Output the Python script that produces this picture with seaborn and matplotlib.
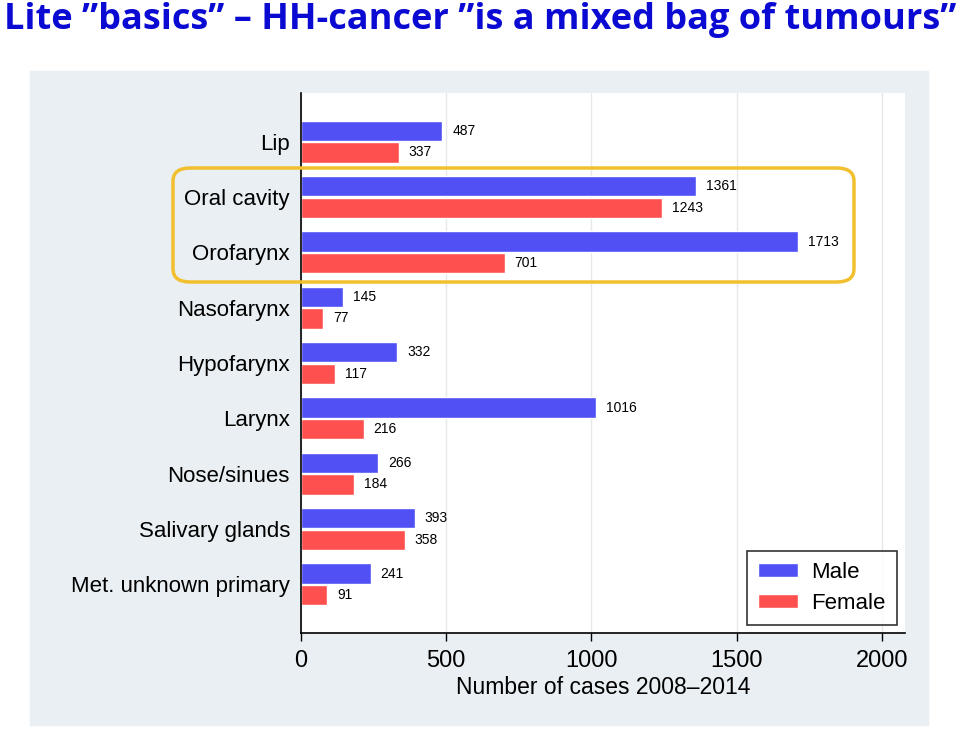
import pandas as pd
import matplotlib
matplotlib.use("Agg")
import matplotlib.pyplot as plt
import seaborn as sns
from matplotlib.patches import Rectangle, FancyBboxPatch

sites = ["Lip", "Oral cavity", "Orofarynx", "Nasofarynx", "Hypofarynx",
         "Larynx", "Nose/sinues", "Salivary glands", "Met. unknown primary"]
male = [487, 1361, 1713, 145, 332, 1016, 266, 393, 241]
female = [337, 1243, 701, 77, 117, 216, 184, 358, 91]

df = pd.DataFrame({"site": sites * 2,
                   "cases": male + female,
                   "sex": ["Male"] * len(sites) + ["Female"] * len(sites)})

sns.set_style("white")
plt.rcParams["font.family"] = ["Liberation Sans", "DejaVu Sans"]
plt.rcParams["text.color"] = "black"
plt.rcParams["xtick.color"] = "black"
plt.rcParams["ytick.color"] = "black"
plt.rcParams["axes.labelcolor"] = "black"

fig = plt.figure(figsize=(9.6, 7.29), dpi=100)
fig.patches.append(Rectangle((30 / 960, 1 - 725 / 729), 898 / 960, 654 / 729,
                             transform=fig.transFigure, color="#e9eff2", zorder=-1))

ax = fig.add_axes([301 / 960, 1 - 633 / 729, 604 / 960, 540 / 729])
ax.set_zorder(1)
sns.barplot(data=df, y="site", x="cases", hue="sex", orient="h",
            palette={"Male": "#5050f5", "Female": "#ff5050"},
            width=0.78, gap=0.05, saturation=1, ax=ax)

for cont in ax.containers:
    ax.bar_label(cont, padding=7, fontsize=10)

ax.set_xlim(0, 2080)
ax.set_ylim(8.88, -0.88)
ax.set_xticks([0, 500, 1000, 1500, 2000])
ax.xaxis.grid(True, color="#e8e8e8", lw=1)
ax.set_axisbelow(True)
ax.tick_params(axis="x", labelsize=17, length=6, width=1, direction="out", bottom=True, pad=6)
ax.tick_params(axis="y", labelsize=16, length=0, pad=8)
ax.set_xlabel("Number of cases 2008\u20132014", fontsize=16.5, labelpad=3)
ax.set_ylabel("")
for s in ["top", "right"]:
    ax.spines[s].set_visible(False)
for s in ["left", "bottom"]:
    ax.spines[s].set_color("black")
    ax.spines[s].set_linewidth(1.2)

leg = ax.legend(loc="lower right", bbox_to_anchor=(1 - 8 / 604, 8 / 540), borderaxespad=0,
                fontsize=16, frameon=True, fancybox=False, edgecolor="black",
                handlelength=1.8, handleheight=0.55, handletextpad=0.6,
                borderpad=0.5, labelspacing=0.45, title=None)
leg.get_frame().set_linewidth(1.2)

box = FancyBboxPatch((173 / 960, 1 - 282 / 729), 681 / 960, 114 / 729,
                     boxstyle="round,pad=0,rounding_size=0.018",
                     transform=fig.transFigure, fill=False,
                     edgecolor="#f2c02e", lw=2.5, zorder=5)
fig.add_artist(box)

fig.text(0.5, 1 - 20 / 729, "Lite \u201dbasics\u201d \u2013 HH-cancer \u201dis a mixed bag of tumours\u201d",
         ha="center", va="center", fontsize=26, fontweight="bold", color="#0a0ad2",
         family=["Open Sans", "DejaVu Sans"])

fig.savefig("out.png", dpi=100)
